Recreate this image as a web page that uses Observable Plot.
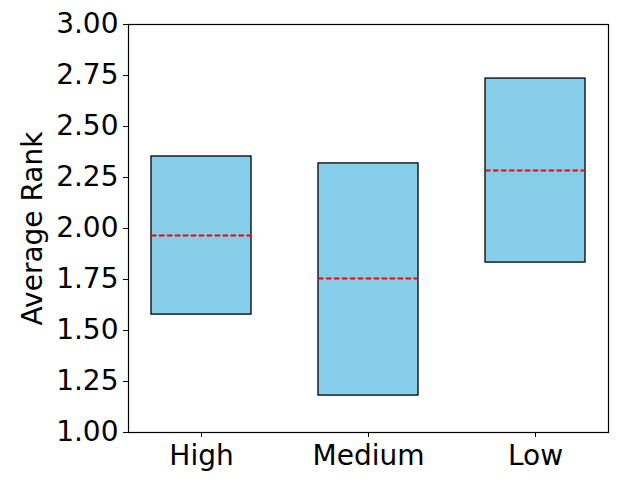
<!DOCTYPE html>
<html>
<head>
<meta charset="utf-8">
<script src="https://cdn.jsdelivr.net/npm/d3@7"></script>
<script src="https://cdn.jsdelivr.net/npm/@observablehq/plot@0.6"></script>
<style>
  html, body { margin: 0; padding: 0; background: white; }
</style>
</head>
<body>
<div id="chart"></div>
<script>
const categories = ["High", "Medium", "Low"];
const lower = [1.578, 1.181, 1.833];
const upper = [2.353, 2.319, 2.735];
const medians = [1.966, 1.755, 2.284];
const yTicks = [1.00, 1.25, 1.50, 1.75, 2.00, 2.25, 2.50, 2.75, 3.00];

const data = categories.map((c, i) => ({cat: c, lo: lower[i], hi: upper[i], med: medians[i]}));

const chart = Plot.plot({
  width: 640,
  height: 480,
  marginLeft: 128,
  marginRight: 32,
  marginTop: 24,
  marginBottom: 48,
  style: {fontFamily: "DejaVu Sans", fontSize: "28px", background: "white", color: "black"},
  x: {type: "band", domain: categories, paddingInner: 0.4, paddingOuter: 0.13},
  y: {domain: [1, 3]},
  marks: [
    Plot.barY(data, {x: "cat", y1: "lo", y2: "hi", fill: "#87CEEB", stroke: "black", strokeWidth: 1.3}),
    Plot.tickY(data, {x: "cat", y: "med", stroke: "red", strokeWidth: 2, strokeDasharray: "5.55 2.4"}),
    Plot.frame({stroke: "black", strokeWidth: 1.2}),
    Plot.axisY({ticks: yTicks, tickFormat: d3.format(".2f"), tickSize: 5, tickPadding: 5, fontSize: 28,
      label: "Average Rank", labelAnchor: "center", labelArrow: "none", labelOffset: 106}),
    Plot.axisX({tickSize: 5, tickPadding: 8, fontSize: 28, label: null})
  ]
});
document.getElementById("chart").appendChild(chart);
</script>
</body>
</html>
